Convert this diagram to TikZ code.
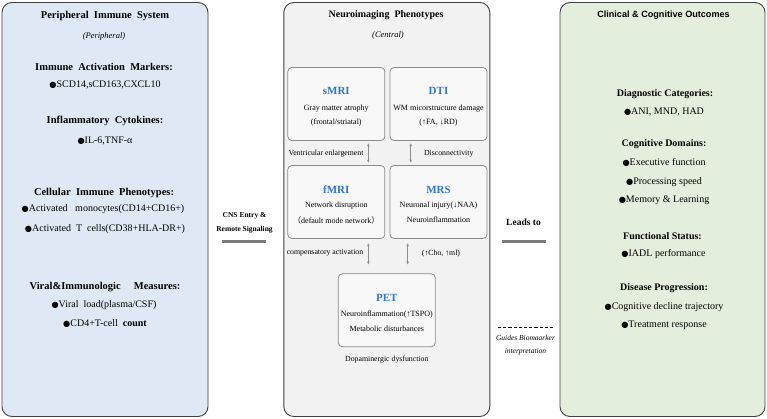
\documentclass[tikz,border=0pt]{standalone}
\usepackage{fontspec}
\setmainfont{Liberation Serif}
\newfontfamily\headsans{Liberation Sans}
\newfontfamily\cjk{Noto Sans CJK SC}
\newfontfamily\dejavu{DejaVu Sans}
\newcommand\bulmark{{\dejavu\fontsize{8.2}{10}\selectfont ●}}
\usetikzlibrary{arrows.meta}
\definecolor{leftfill}{RGB}{222,233,245}
\definecolor{midfill}{RGB}{242,242,242}
\definecolor{rightfill}{RGB}{227,239,220}
\definecolor{boxfill}{RGB}{248,248,248}
\definecolor{boxline}{RGB}{140,140,140}
\definecolor{ttlblue}{RGB}{46,117,205}
\definecolor{arrgray}{RGB}{140,140,140}
\definecolor{bargray}{RGB}{125,125,125}
\begin{document}
\begin{tikzpicture}[x=1pt,y=-1pt,
  panel/.style={draw=black!75, line width=0.9pt, rounded corners=10pt, inner sep=0pt, minimum width=206pt, minimum height=414pt},
  ibox/.style={draw=boxline, fill=boxfill, line width=0.8pt, rounded corners=4pt, inner sep=0pt, minimum width=97pt, minimum height=73pt},
  ptitle/.style={font=\fontsize{10.5}{12}\selectfont\bfseries, inner sep=0pt},
  psub/.style={font=\fontsize{8.5}{10}\selectfont\itshape, inner sep=0pt},
  lhead/.style={font=\fontsize{10.5}{12}\selectfont\bfseries, inner sep=0pt},
  litem/.style={font=\fontsize{10}{12}\selectfont, inner sep=0pt},
  rhead/.style={font=\fontsize{10}{12}\selectfont\bfseries, inner sep=0pt},
  ritem/.style={font=\fontsize{10}{12}\selectfont, inner sep=0pt},
  btitle/.style={font=\fontsize{11}{13}\selectfont\bfseries, text=ttlblue, inner sep=0pt},
  btext/.style={font=\fontsize{8}{10}\selectfont, inner sep=0pt},
  mlabel/.style={font=\fontsize{7.8}{10}\selectfont, inner sep=0pt},
  arr/.style={{Stealth[length=3pt,width=2.6pt]}-{Stealth[length=3pt,width=2.6pt]}, draw=arrgray, line width=0.6pt},
  bar/.style={draw=bargray, line width=2.4pt},
  blabel/.style={font=\fontsize{7.5}{9}\selectfont\bfseries, inner sep=0pt},
  ilabel/.style={font=\fontsize{7.5}{9}\selectfont\itshape, inner sep=0pt}
]
\useasboundingbox (0,0) rectangle (767,419);

% panels
\node[panel, fill=leftfill] (left) at (105,209.5) {};
\node[panel, fill=midfill] (mid) at (386.8,209.5) {};
\node[panel, fill=rightfill, minimum width=205pt] (right) at (662.5,209.5) {};

% left panel
\node[ptitle] (lt) at (105,15.7) {Peripheral\ \ Immune\ \ System};
\node[psub] (ls) at (104,36) {(Peripheral)};
\node[lhead] (l1) at (104,66.7) {Immune\ \ Activation\ \ Markers:};
\node[litem] (l1a) at (105,85) {\bulmark SCD14,sCD163,CXCL10};
\node[lhead] (l2) at (105,120.7) {Inflammatory\ \ Cytokines:};
\node[litem] (l2a) at (105,140.5) {\bulmark IL-6,TNF-α};
\node[lhead] (l3) at (104,192.7) {Cellular\ \ Immune\ \ Phenotypes:};
\node[litem] (l3a) at (103,209.3) {\bulmark Activated\ \ \ monocytes(CD14+CD16+)};
\node[litem] (l3b) at (105,229) {\bulmark Activated\ \ T\ \ cells(CD38+HLA-DR+)};
\node[lhead] (l4) at (105,287.3) {Viral\&Immunologic\ \ \ \ \ Measures:};
\node[litem] (l4a) at (104,305) {\bulmark Viral\ \ load(plasma/CSF)};
\node[litem] (l4b) at (105,324) {\bulmark CD4+T-cell\ \ \textbf{count}};

% middle panel
\node[ptitle, font=\fontsize{10}{12}\selectfont\bfseries] (mt) at (386,15) {Neuroimaging\ \ Phenotypes};
\node[psub] (ms) at (388,35.7) {(Central)};

\node[ibox] (smri) at (336.3,104) {};
\node[ibox] (dti) at (438.5,104) {};
\node[ibox] (fmri) at (336.3,202) {};
\node[ibox] (mrs) at (438.5,202) {};
\node[ibox] (pet) at (386.8,310.3) {};

\node[btitle] (smrit) at (336.3,91) {sMRI};
\node[btext] (smri1) at (336.3,108.3) {Gray matter atrophy};
\node[btext] (smri2) at (336.3,122.3) {(frontal/striatal)};

\node[btitle] (dtit) at (438.5,91) {DTI};
\node[btext] (dti1) at (438.5,108.3) {WM micorstructure damage};
\node[btext] (dti2) at (438.5,122.3) {(↑FA, ↓RD)};

\node[btitle] (fmrit) at (336.3,190) {fMRI};
\node[btext] (fmri1) at (336.3,206) {Network disruption};
\node[btext] (fmri2) at (336.3,220) {{\cjk （}default mode network{\cjk ）}};

\node[btitle] (mrst) at (438.5,190) {MRS};
\node[btext] (mrs1) at (438.5,206) {Neuronal injury(↓NAA)};
\node[btext] (mrs2) at (438.5,220) {Neuroinflammation};

\node[btitle] (pett) at (386.8,297.7) {PET};
\node[btext] (pet1) at (386.8,315) {Neuroinflammation(↑TSPO)};
\node[btext] (pet2) at (386.8,329) {Metabolic disturbances};

\node[mlabel] (vent) at (326,153.3) {Ventricular enlargement};
\node[mlabel] (disc) at (448.7,153.3) {Disconnectivity};
\node[mlabel] (comp) at (325,252.7) {compensatory activation};
\node[mlabel] (cho) at (441,253.5) {(↑Cho, ↑ml)};
\node[mlabel] (dopa) at (386.8,359.3) {Dopaminergic dysfunction};

\coordinate (ax1) at (368.3,0);
\coordinate (ax2) at (410.7,0);
\coordinate (ax3) at (407.7,0);
\draw[arr, shorten <=2.5pt, shorten >=2.5pt] (smri.south -| ax1) -- (fmri.north -| ax1);
\draw[arr, shorten <=2.5pt, shorten >=2.5pt] (dti.south -| ax2) -- (mrs.north -| ax2);
\draw[arr, shorten <=4.5pt, shorten >=9pt] (fmri.south -| ax1) -- (pet.north -| ax1);
\draw[arr, shorten <=4.5pt, shorten >=9pt] (mrs.south -| ax3) -- (pet.north -| ax3);

% between panels
\node[blabel] (cns1) at (244.5,216) {CNS Entry \&};
\node[blabel] (cns2) at (244.5,230) {Remote Signaling};
\coordinate (cnsA) at (221.7,241.7);
\coordinate (cnsB) at (265.7,241.7);
\draw[bar] (cnsA) -- (cnsB);

\node[blabel, font=\fontsize{9.5}{11}\selectfont\bfseries] (leads) at (523.5,222) {Leads to};
\coordinate (ldA) at (501.5,241.7);
\coordinate (ldB) at (545.5,241.7);
\draw[bar] (ldA) -- (ldB);

\coordinate (gdA) at (498,327.7);
\coordinate (gdB) at (552.7,327.7);
\draw[line width=1pt, dash pattern=on 3.2pt off 2pt] (gdA) -- (gdB);
\node[ilabel] (gd1) at (525.5,337.5) {Guides Biomaarker};
\node[ilabel] (gd2) at (525.5,352.3) {interpretation};

% right panel
\node[inner sep=0pt, font=\headsans\fontsize{9.1}{11}\selectfont\bfseries] (rt) at (663.5,15.5) {Clinical \& Cognitive Outcomes};
\node[rhead] (r1) at (665,94.3) {Diagnostic Categories:};
\node[ritem] (r1a) at (664,111.7) {\bulmark ANI, MND, HAD};
\node[rhead] (r2) at (664,144) {Cognitive Domains:};
\node[ritem] (r2a) at (664,162.7) {\bulmark Executive function};
\node[ritem] (r2b) at (664,181.7) {\bulmark Processing speed};
\node[ritem] (r2c) at (664,200) {\bulmark Memory \& Learning};
\node[rhead] (r3) at (662.5,236) {Functional Status:};
\node[ritem] (r3a) at (663.5,254) {\bulmark IADL performance};
\node[rhead] (r4) at (664,288.3) {Disease Progression:};
\node[ritem] (r4a) at (664,306.7) {\bulmark Cognitive decline trajectory};
\node[ritem] (r4b) at (664,325.7) {\bulmark Treatment response};
\end{tikzpicture}
\end{document}
